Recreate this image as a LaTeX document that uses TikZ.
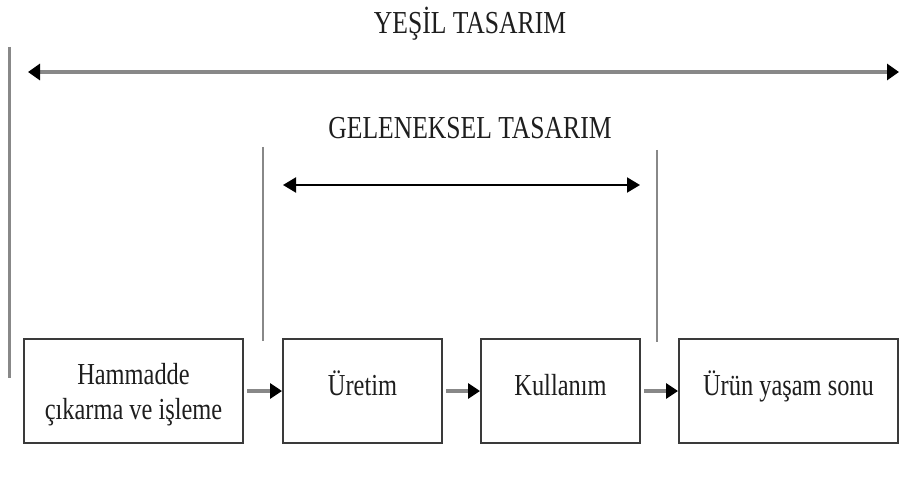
\documentclass[tikz,border=0pt]{standalone}
\usepackage{fontspec}
\setmainfont{Liberation Serif}[FakeStretch=0.8]
\usetikzlibrary{arrows.meta}
\definecolor{inkgray}{HTML}{3A3A3A}
\definecolor{rulegray}{HTML}{888888}
\definecolor{textink}{HTML}{1E1E1E}
\newcommand{\topstrut}{\rule{0pt}{28pt}}
\tikzset{
  stagebox/.style={draw=inkgray, line width=2pt, fill=white, inner sep=0pt,
    minimum height=104pt, align=center, text=textink,
    font=\fontsize{30.5}{35}\selectfont},
  oneline/.style={text height=20pt, text depth=12pt},
  wide/.style={minimum width=219pt},
  narrow/.style={minimum width=159pt},
  title/.style={anchor=base, text=textink, inner sep=0pt,
    font=\fontsize{32}{36}\selectfont},
  boundary/.style={draw=rulegray, line width=2.5pt},
  headtip/.style={-{Triangle[length=12pt,width=15pt,color=black]}},
  spanthick/.style={draw=rulegray, line width=3.5pt,
    {Triangle[length=12pt,width=16pt,color=black]}-{Triangle[length=12pt,width=16pt,color=black]}},
  spanthin/.style={draw=black, line width=2pt,
    {Triangle[length=13pt,width=15pt]}-{Triangle[length=13pt,width=15pt]}},
  flow/.style={draw=rulegray, line width=3.5pt, headtip, shorten <=3pt}
}
\begin{document}
\begin{tikzpicture}[x=1pt,y=-1pt]
  \useasboundingbox[fill=white] (0,0) rectangle (905,500);

  % life-cycle stages
  \node[stagebox, wide]            (ham) at (133.5,391) {\topstrut Hammadde\\çıkarma ve işleme};
  \node[stagebox, narrow, oneline] (ure) at (362.5,391) {Üretim};
  \node[stagebox, narrow, oneline] (kul) at (560.5,391) {Kullanım};
  \node[stagebox, wide, oneline]   (son) at (788.5,391) {Ürün yaşam sonu};

  \draw[flow] (ham.east) -- (ure.west);
  \draw[flow] (ure.east) -- (kul.west);
  \draw[flow] (kul.east) -- (son.west);

  % scope boundaries
  \coordinate (gtop) at (9.5,47);
  \coordinate (gbot) at (9.5,378);
  \coordinate (ltop) at (263,147);
  \coordinate (lbot) at (263,341);
  \coordinate (rtop) at (657,150);
  \coordinate (rbot) at (657,342);
  \draw[boundary] (gtop) -- (gbot);
  \draw[boundary] (ltop) -- (lbot);
  \draw[boundary] (rtop) -- (rbot);

  % green design span
  \node[title] (yesil) at (470,34) {YEŞİL TASARIM};
  \coordinate (ya) at (28,72);
  \coordinate (yb) at (899,72);
  \draw[spanthick] (ya) -- (yb);

  % traditional design span
  \node[title] (gelen) at (470,139) {GELENEKSEL TASARIM};
  \coordinate (ga) at (283,185);
  \coordinate (gb) at (640,185);
  \draw[spanthin] (ga) -- (gb);
\end{tikzpicture}
\end{document}
